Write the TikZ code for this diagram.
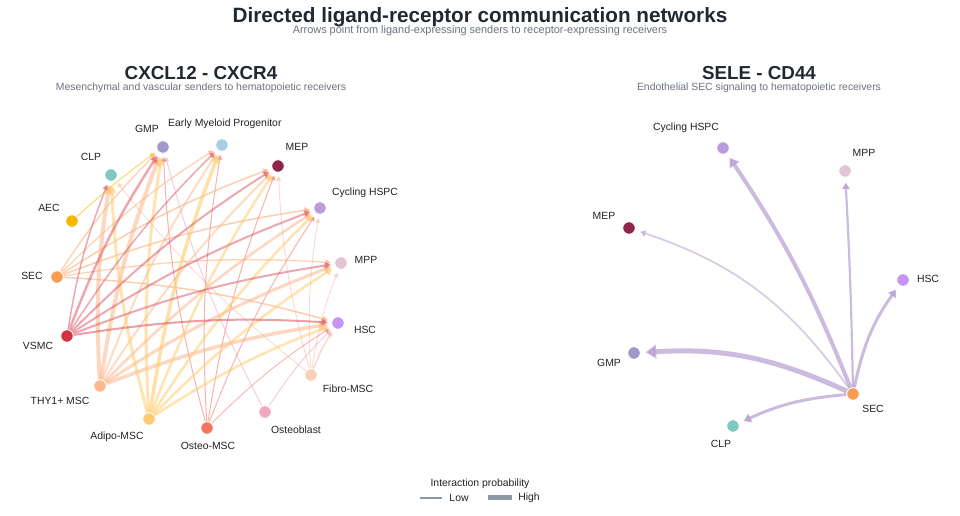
\documentclass[tikz,border=0pt]{standalone}
\usepackage{fontspec}
\setmainfont{Liberation Sans}
\usetikzlibrary{arrows.meta}
\definecolor{cAEC}{HTML}{F5B700}
\definecolor{cSEC}{HTML}{F99B50}
\definecolor{cVSMC}{HTML}{D7303F}
\definecolor{cTHY}{HTML}{FDBA8C}
\definecolor{cAdipo}{HTML}{FDCB6E}
\definecolor{cOsteoM}{HTML}{F47560}
\definecolor{cOsteob}{HTML}{F1A7BE}
\definecolor{cFibro}{HTML}{FAD0B8}
\definecolor{cGMP}{HTML}{9E98CB}
\definecolor{cEMP}{HTML}{A9CDE3}
\definecolor{cMEP}{HTML}{8E2747}
\definecolor{cCyc}{HTML}{B99DDB}
\definecolor{cMPP}{HTML}{E3C3D6}
\definecolor{cHSC}{HTML}{C993F5}
\definecolor{cCLP}{HTML}{7FC9C1}
\definecolor{eVSMC}{HTML}{D9404F}
\definecolor{eSEC}{HTML}{F9A060}
\definecolor{eTHY}{HTML}{FDB080}
\definecolor{eAdipo}{HTML}{FFCC70}
\definecolor{eOsteoM}{HTML}{EE6A5E}
\definecolor{eOsteob}{HTML}{F0A0B8}
\definecolor{eFibro}{HTML}{F7C2AE}
\definecolor{eAEC}{HTML}{F8C830}
\definecolor{ePurp}{HTML}{A98FCB}
\definecolor{titlec}{HTML}{222831}
\definecolor{subc}{HTML}{6B7280}
\definecolor{labc}{HTML}{222222}
\definecolor{legc}{HTML}{8E98A3}
\pgfdeclarelayer{back}
\pgfdeclarelayer{bg}
\pgfsetlayers{back,bg,main}
\newcommand\lrE[5]{\draw[edge, draw=#3, line width=#4pt, draw opacity=#5, fill opacity=#5] (#1) to[bend left=6] (#2);}
\begin{document}
\begin{tikzpicture}[x=1pt,y=1pt,
  cell/.style={circle, fill=#1, draw=white, line width=0.8pt, minimum size=12.5pt, inner sep=0pt},
  lab/.style={font=\fontsize{10.4}{12}\selectfont, text=labc, inner sep=0pt},
  edge/.style={-{Triangle[length=3pt 1.6, width=3pt 2.0]}, shorten >=3.5pt},
  redge/.style={-{Triangle[length=3pt 1.5, width=3pt 2.1]}, shorten >=5pt, draw=ePurp, draw opacity=0.6, fill opacity=0.6}
]
\useasboundingbox (0,0) rectangle (960,516);
\begin{pgfonlayer}{back}
\fill[white] (0,0) rectangle (960,516);
\end{pgfonlayer}

% titles
\node[font=\fontsize{20.7}{24}\selectfont\bfseries, text=titlec, inner sep=0pt] (title) at (480,499) {Directed ligand-receptor communication networks};
\node[font=\fontsize{10.9}{13}\selectfont, text=subc, inner sep=0pt] (subtitle) at (480,485.5) {Arrows point from ligand-expressing senders to receptor-expressing receivers};
\node[font=\fontsize{18.8}{22}\selectfont\bfseries, text=titlec, inner sep=0pt] (t1) at (201,443) {CXCL12 - CXCR4};
\node[font=\fontsize{10.4}{12}\selectfont, text=subc, inner sep=0pt] (s1) at (201,428) {Mesenchymal and vascular senders to hematopoietic receivers};
\node[font=\fontsize{18.8}{22}\selectfont\bfseries, text=titlec, inner sep=0pt] (t2) at (759,443) {SELE - CD44};
\node[font=\fontsize{10.4}{12}\selectfont, text=subc, inner sep=0pt] (s2) at (759,428) {Endothelial SEC signaling to hematopoietic receivers};

% left nodes
\node[cell=cGMP] (GMP) at (163,369) {};
\node[cell=cEMP] (EMP) at (222,371) {};
\node[cell=cMEP] (MEP) at (278,350) {};
\node[cell=cCyc] (Cyc) at (320,308) {};
\node[cell=cMPP] (MPP) at (341,253) {};
\node[cell=cHSC] (HSC) at (338,193) {};
\node[cell=cFibro] (Fibro) at (311,141) {};
\node[cell=cOsteob] (Osteob) at (265,104) {};
\node[cell=cOsteoM] (OsteoM) at (207,88) {};
\node[cell=cAdipo] (Adipo) at (149,97) {};
\node[cell=cTHY] (THY) at (100,130) {};
\node[cell=cVSMC] (VSMC) at (67,180) {};
\node[cell=cSEC] (SEC) at (57,239) {};
\node[cell=cAEC] (AEC) at (72,295) {};
\node[cell=cCLP] (CLP) at (111,341) {};

\node[lab] (lGMP) at (147,387) {GMP};
\node[lab, anchor=west] (lEMP) at (168,392) {Early Myeloid Progenitor};
\node[lab] (lMEP) at (297,369) {MEP};
\node[lab] (lCyc) at (365,323) {Cycling HSPC};
\node[lab] (lMPP) at (366,256) {MPP};
\node[lab] (lHSC) at (365,186) {HSC};
\node[lab] (lFibro) at (348,127) {Fibro-MSC};
\node[lab] (lOsteob) at (296,86) {Osteoblast};
\node[lab] (lOsteoM) at (208,70) {Osteo-MSC};
\node[lab] (lAdipo) at (117,79) {Adipo-MSC};
\node[lab] (lTHY) at (60,115) {THY1+ MSC};
\node[lab] (lVSMC) at (38,170) {VSMC};
\node[lab] (lSEC) at (32,240) {SEC};
\node[lab] (lAEC) at (49,308) {AEC};
\node[lab] (lCLP) at (91,359) {CLP};

% right nodes
\node[cell=cCyc] (rCyc) at (723,368) {};
\node[cell=cMPP] (rMPP) at (845,345) {};
\node[cell=cMEP] (rMEP) at (629,288) {};
\node[cell=cHSC] (rHSC) at (903,236) {};
\node[cell=cGMP] (rGMP) at (634,163) {};
\node[cell=cSEC] (rSEC) at (853,122) {};
\node[cell=cCLP] (rCLP) at (733,90) {};

\node[lab] (lrCyc) at (686,388) {Cycling HSPC};
\node[lab] (lrMPP) at (864,363) {MPP};
\node[lab] (lrMEP) at (604,300) {MEP};
\node[lab] (lrHSC) at (928,237) {HSC};
\node[lab] (lrGMP) at (609,153) {GMP};
\node[lab] (lrSEC) at (873,107) {SEC};
\node[lab] (lrCLP) at (721,72) {CLP};

% legend
\node[lab] (legt) at (480,32) {Interaction probability};
\coordinate (lowA) at (420,18);
\coordinate (lowB) at (442,18);
\coordinate (highA) at (488,18);
\coordinate (highB) at (512,18);
\draw[legc, line width=1.2pt] (lowA) -- (lowB);
\draw[legc, line width=5pt] (highA) -- (highB);
\node[lab] (lLow) at (459,18) {Low};
\node[lab] (lHigh) at (529,18) {High};

\begin{pgfonlayer}{bg}
% Fibro-MSC
\lrE{Fibro}{CLP}{eFibro}{1}{0.5}
\lrE{Fibro}{MEP}{eFibro}{1}{0.55}
\lrE{Fibro}{Cyc}{eFibro}{1}{0.55}
\lrE{Fibro}{MPP}{eFibro}{1}{0.55}
\lrE{Fibro}{HSC}{eFibro}{1.5}{0.6}
% Osteoblast
\lrE{Osteob}{GMP}{eOsteob}{1}{0.5}
\lrE{Osteob}{HSC}{eOsteob}{1}{0.5}
% Osteo-MSC
\lrE{OsteoM}{GMP}{eOsteoM}{1}{0.5}
\lrE{OsteoM}{EMP}{eOsteoM}{1}{0.5}
\lrE{OsteoM}{MEP}{eOsteoM}{1}{0.5}
\lrE{OsteoM}{Cyc}{eOsteoM}{1}{0.5}
\lrE{OsteoM}{HSC}{eOsteoM}{1}{0.45}
% SEC
\lrE{SEC}{GMP}{eSEC}{1.5}{0.45}
\lrE{SEC}{EMP}{eSEC}{1.3}{0.45}
\lrE{SEC}{MEP}{eSEC}{1.5}{0.5}
\lrE{SEC}{Cyc}{eSEC}{1.5}{0.5}
\lrE{SEC}{MPP}{eSEC}{1.3}{0.45}
\lrE{SEC}{HSC}{eSEC}{1.5}{0.5}
% THY1+ MSC
\lrE{THY}{CLP}{eTHY}{4}{0.5}
\lrE{THY}{GMP}{eTHY}{4}{0.5}
\lrE{THY}{EMP}{eTHY}{2}{0.45}
\lrE{THY}{MEP}{eTHY}{2}{0.45}
\lrE{THY}{Cyc}{eTHY}{2.5}{0.5}
\lrE{THY}{MPP}{eTHY}{3}{0.5}
\lrE{THY}{HSC}{eTHY}{3.5}{0.5}
% Adipo-MSC
\lrE{Adipo}{CLP}{eAdipo}{3}{0.55}
\lrE{Adipo}{GMP}{eAdipo}{3}{0.55}
\lrE{Adipo}{EMP}{eAdipo}{3.5}{0.6}
\lrE{Adipo}{MEP}{eAdipo}{2.5}{0.55}
\lrE{Adipo}{Cyc}{eAdipo}{2.5}{0.55}
\lrE{Adipo}{MPP}{eAdipo}{2.5}{0.55}
\lrE{Adipo}{HSC}{eAdipo}{2.5}{0.55}
% VSMC
\lrE{VSMC}{CLP}{eVSMC}{1.5}{0.45}
\lrE{VSMC}{GMP}{eVSMC}{2.5}{0.45}
\lrE{VSMC}{EMP}{eVSMC}{1.5}{0.45}
\lrE{VSMC}{MEP}{eVSMC}{2}{0.45}
\lrE{VSMC}{Cyc}{eVSMC}{2}{0.45}
\lrE{VSMC}{MPP}{eVSMC}{2}{0.45}
\lrE{VSMC}{HSC}{eVSMC}{2}{0.5}
% AEC
\draw[edge, draw=eAEC, line width=1pt, draw opacity=0.7, fill opacity=0.7] (AEC) to[bend left=3] (GMP);

% right panel
\draw[redge, line width=4pt] (rSEC) to[bend right=6] (rCyc);
\draw[redge, line width=2.2pt] (rSEC) to[bend right=1] (rMPP);
\draw[redge, line width=1.8pt, draw opacity=0.45, fill opacity=0.45] (rSEC) to[bend right=18] (rMEP);
\draw[redge, line width=3pt] (rSEC) to[bend left=12] (rHSC);
\draw[redge, line width=5pt] (rSEC) to[bend right=14] (rGMP);
\draw[redge, line width=3pt] (rSEC) to[bend right=10] (rCLP);
\end{pgfonlayer}
\end{tikzpicture}
\end{document}
